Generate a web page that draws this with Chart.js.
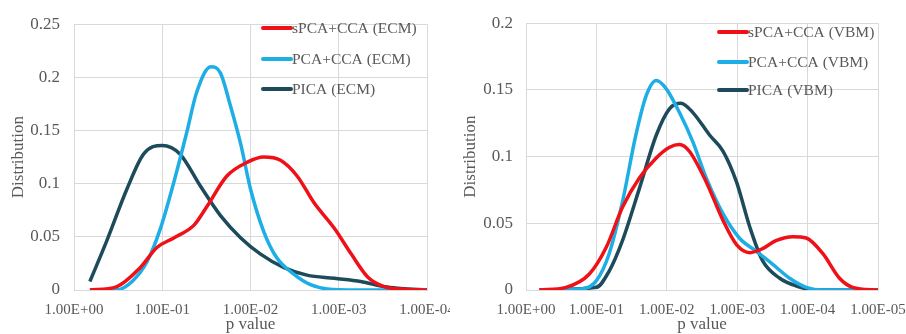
<!DOCTYPE html>
<html>
<head>
<meta charset="utf-8">
<script src="https://cdn.jsdelivr.net/npm/chart.js@4.4.0/dist/chart.umd.min.js"></script>
<style>
  body { margin: 0; background: #fff; }
  .panel { position: absolute; top: 0; }
</style>
</head>
<body>
<canvas id="ecmChart" class="panel" style="left:0" width="450" height="334"></canvas>
<canvas id="vbmChart" class="panel" style="left:456px" width="450" height="334"></canvas>
<script>
// x is -log10(p): 0 -> 1.00E+00, 1 -> 1.00E-01 ...
const ecmLabels = ['sPCA+CCA (ECM)', 'PCA+CCA (ECM)', 'PICA (ECM)'];
const ecmSpcaX = [0.18, 0.48, 0.75, 0.94, 1.13, 1.36, 1.51, 1.73, 1.96, 2.15, 2.34, 2.53, 2.72, 2.95, 3.14, 3.33, 3.52, 3.70, 4.0];
const ecmSpcaY = [0, 0.003, 0.021, 0.040, 0.049, 0.061, 0.079, 0.107, 0.120, 0.125, 0.122, 0.107, 0.082, 0.058, 0.034, 0.012, 0.003, 0.001, 0];
const ecmPcaX = [0.18, 0.48, 0.67, 0.83, 0.98, 1.13, 1.28, 1.39, 1.55, 1.66, 1.77, 1.89, 2.0, 2.15, 2.30, 2.49, 2.68, 2.87, 3.2, 4.0];
const ecmPcaY = [0, 0, 0.009, 0.027, 0.058, 0.101, 0.149, 0.186, 0.210, 0.204, 0.174, 0.137, 0.095, 0.055, 0.030, 0.015, 0.005, 0.001, 0, 0];
const ecmPicaX = [0.18, 0.37, 0.60, 0.79, 1.0, 1.20, 1.43, 1.66, 1.89, 2.11, 2.38, 2.64, 2.95, 3.25, 3.52, 3.70, 4.0];
const ecmPicaY = [0.008, 0.046, 0.095, 0.128, 0.136, 0.128, 0.098, 0.070, 0.049, 0.034, 0.021, 0.014, 0.011, 0.008, 0.003, 0.0015, 0];

const vbmLabels = ['sPCA+CCA (VBM)', 'PCA+CCA (VBM)', 'PICA (VBM)'];
const vbmSpcaX = [0.19, 0.57, 0.90, 1.14, 1.37, 1.61, 1.85, 2.04, 2.18, 2.32, 2.56, 2.80, 2.99, 3.18, 3.36, 3.55, 3.79, 3.98, 4.22, 4.45, 4.64, 5.0];
const vbmSpcaY = [0, 0.002, 0.012, 0.032, 0.062, 0.084, 0.099, 0.107, 0.109, 0.104, 0.081, 0.052, 0.034, 0.028, 0.031, 0.037, 0.040, 0.039, 0.027, 0.009, 0.002, 0];
const vbmPcaX = [0.19, 0.81, 1.0, 1.18, 1.37, 1.56, 1.71, 1.85, 1.99, 2.18, 2.37, 2.56, 2.80, 3.03, 3.27, 3.51, 3.74, 3.98, 4.22, 5.0];
const vbmPcaY = [0, 0.001, 0.007, 0.027, 0.066, 0.116, 0.146, 0.157, 0.151, 0.133, 0.111, 0.084, 0.057, 0.039, 0.029, 0.019, 0.009, 0.002, 0, 0];
const vbmPicaX = [0.19, 1.0, 1.18, 1.37, 1.61, 1.85, 2.04, 2.20, 2.37, 2.61, 2.80, 2.99, 3.18, 3.36, 3.60, 3.84, 4.12, 5.0];
const vbmPicaY = [0, 0.002, 0.014, 0.037, 0.076, 0.116, 0.136, 0.140, 0.133, 0.116, 0.104, 0.081, 0.047, 0.022, 0.009, 0.003, 0, 0];

const colors = ['#f01018', '#1eaee6', '#1d4b5b'];
const textColor = '#595959';
const gridColor = '#d9d9d9';
const serif = '"Liberation Serif", "Times New Roman", serif';

function toPoints(xs, ys) {
    return xs.map(function (x, i) { return { x: x, y: ys[i] }; });
}

function formatP(value) {
    if (value === 0) return '1.00E+00';
    return '1.00E-0' + value;
}

// legend drawn inside the plot, line then label
const insideLegend = {
    id: 'insideLegend',
    afterDraw(chart, args, opts) {
        const ctx = chart.ctx;
        ctx.save();
        ctx.font = '15.5px ' + serif;
        ctx.textBaseline = 'middle';
        ctx.textAlign = 'left';
        chart.data.datasets.forEach(function (ds, i) {
            const y = opts.ys[i];
            ctx.strokeStyle = ds.borderColor;
            ctx.lineWidth = 4;
            ctx.lineCap = 'round';
            ctx.beginPath();
            ctx.moveTo(opts.x, y);
            ctx.lineTo(opts.x + 28, y);
            ctx.stroke();
            ctx.fillStyle = textColor;
            ctx.fillText(ds.label, opts.x + 29, y + 1);
        });
        ctx.restore();
    }
};

function makeChart(id, labels, series, cfg) {
    const datasets = series.map(function (s, i) {
        return {
            label: labels[i],
            data: s,
            borderColor: colors[i],
            borderWidth: 3.5,
            pointRadius: 0,
            fill: false,
            cubicInterpolationMode: 'monotone'
        };
    });
    return new Chart(document.getElementById(id), {
        type: 'line',
        data: { datasets: datasets },
        plugins: [insideLegend],
        options: {
            responsive: false,
            animation: false,
            layout: { padding: { top: cfg.top, right: cfg.right, left: 0, bottom: 0 } },
            plugins: {
                legend: { display: false },
                tooltip: { enabled: false },
                insideLegend: { x: cfg.legendX, ys: cfg.legendYs }
            },
            scales: {
                x: {
                    type: 'linear',
                    min: 0,
                    max: cfg.xMax,
                    afterBuildTicks: function (scale) {
                        const t = [];
                        for (let v = 0; v <= cfg.xMax; v++) t.push({ value: v });
                        scale.ticks = t;
                    },
                    afterFit: function (scale) {
                        scale.height = 44;
                        scale.paddingLeft = 0;
                        scale.paddingRight = 0;
                    },
                    grid: { color: gridColor, drawTicks: false },
                    border: { color: gridColor },
                    ticks: {
                        color: textColor,
                        padding: 11,
                        maxRotation: 0,
                        font: { family: serif, size: 15 },
                        callback: formatP
                    },
                    title: {
                        display: true,
                        text: 'p value',
                        color: textColor,
                        font: { family: serif, size: 17, lineHeight: 1.1 },
                        padding: 0
                    }
                },
                y: {
                    min: 0,
                    max: cfg.yMax,
                    ticks: {
                        stepSize: 0.05,
                        color: textColor,
                        padding: cfg.yPad,
                        font: { family: serif, size: 17 },
                        callback: function (v) { return String(Number(v.toFixed(2))); }
                    },
                    afterFit: function (scale) { scale.width = cfg.yWidth; },
                    grid: { color: gridColor, drawTicks: false },
                    border: { color: gridColor },
                    title: {
                        display: true,
                        text: 'Distribution',
                        color: textColor,
                        font: { family: serif, size: 17 },
                        padding: { top: cfg.titlePad, bottom: 0 }
                    }
                }
            }
        }
    });
}

makeChart('ecmChart', ecmLabels,
    [toPoints(ecmSpcaX, ecmSpcaY), toPoints(ecmPcaX, ecmPcaY), toPoints(ecmPicaX, ecmPicaY)],
    { xMax: 4, yMax: 0.25, top: 17, right: 23, yWidth: 74, yPad: 14, titlePad: 8,
      legendX: 263, legendYs: [28, 59, 89] });

makeChart('vbmChart', vbmLabels,
    [toPoints(vbmSpcaX, vbmSpcaY), toPoints(vbmPcaX, vbmPcaY), toPoints(vbmPicaX, vbmPicaY)],
    { xMax: 5, yMax: 0.2, top: 21, right: 28, yWidth: 70, yPad: 13, titlePad: 4,
      legendX: 263, legendYs: [32, 62, 90] });
</script>
</body>
</html>
